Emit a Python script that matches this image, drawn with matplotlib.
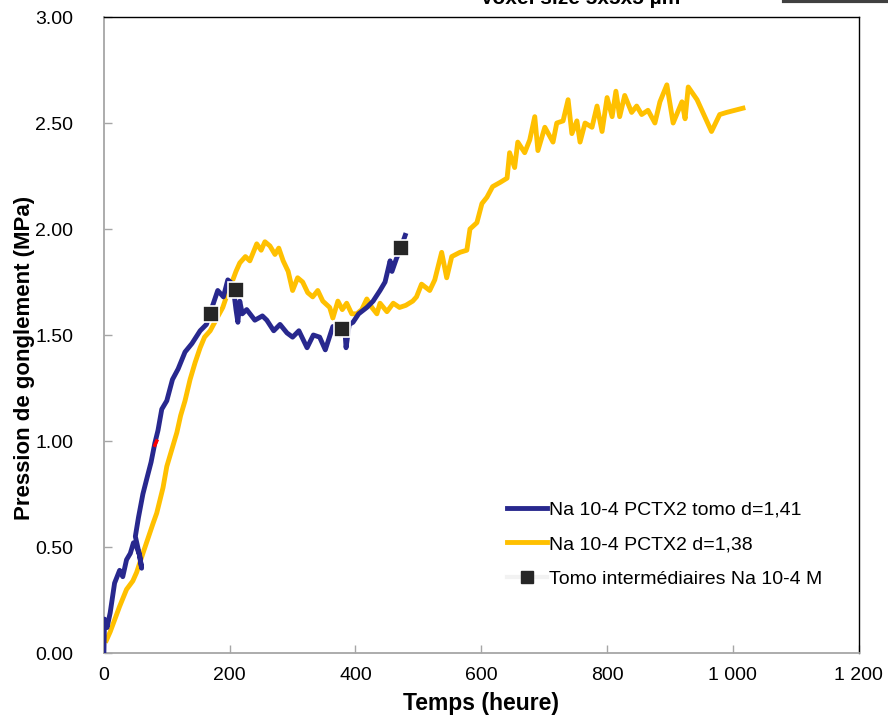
import matplotlib
matplotlib.use('agg')
import matplotlib.pyplot as plt
from matplotlib.lines import Line2D
from matplotlib.ticker import FuncFormatter

# Na 10-4 PCTX2 tomo d=1,41 (heures, MPa)
tomo_t = [0, 1, 5, 10, 17, 25, 30, 36, 42, 47, 52, 57, 60, 56, 50, 55, 62, 68,
          75, 81, 86, 92, 100, 109, 118, 129, 140, 153, 163, 173, 181, 190,
          197, 205, 210, 213, 216, 220, 227, 240, 252, 259, 270, 280, 291,
          300, 310, 323, 333, 343, 352, 364, 375, 383, 385, 390, 396, 405,
          418, 428, 439, 447, 455, 458, 465, 472, 479]
tomo_p = [0.00, 0.16, 0.12, 0.19, 0.33, 0.39, 0.36, 0.44, 0.47, 0.52, 0.50,
          0.46, 0.40, 0.47, 0.55, 0.64, 0.75, 0.82, 0.90, 0.99, 1.05, 1.15,
          1.19, 1.29, 1.34, 1.42, 1.46, 1.52, 1.55, 1.64, 1.71, 1.68, 1.76,
          1.74, 1.62, 1.56, 1.66, 1.60, 1.62, 1.57, 1.59, 1.57, 1.52, 1.55,
          1.51, 1.49, 1.52, 1.44, 1.50, 1.49, 1.43, 1.54, 1.50, 1.53, 1.44,
          1.55, 1.56, 1.60, 1.63, 1.66, 1.71, 1.75, 1.85, 1.80, 1.86, 1.91,
          1.97]

# Na 10-4 PCTX2 d=1,38
ref_t = [4, 10, 15, 25, 36, 46, 52, 62, 70, 78, 84, 94, 100, 108, 116, 122,
         129, 137, 145, 153, 160, 169, 178, 189, 197, 205, 210, 216, 225,
         232, 243, 250, 256, 264, 272, 278, 285, 293, 300, 308, 316, 324,
         332, 340, 348, 359, 364, 372, 379, 386, 394, 402, 410, 418, 426,
         434, 439, 450, 460, 470, 480, 491, 497, 505, 518, 526, 537, 545,
         553, 566, 577, 582, 593, 601, 609, 618, 630, 641, 645, 653, 658,
         669, 677, 685, 690, 701, 714, 720, 730, 738, 744, 752, 757, 765,
         776, 784, 792, 800, 808, 814, 820, 828, 839, 847, 855, 865, 876,
         884, 895, 905, 919, 924, 929, 943, 966, 979, 990, 1016]
ref_p = [0.06, 0.10, 0.14, 0.22, 0.30, 0.34, 0.38, 0.47, 0.54, 0.61, 0.66,
         0.78, 0.88, 0.96, 1.04, 1.12, 1.19, 1.29, 1.37, 1.44, 1.49, 1.52,
         1.57, 1.63, 1.70, 1.76, 1.80, 1.84, 1.87, 1.85, 1.93, 1.90, 1.94,
         1.92, 1.88, 1.91, 1.85, 1.80, 1.71, 1.77, 1.75, 1.70, 1.68, 1.71,
         1.66, 1.63, 1.58, 1.66, 1.62, 1.65, 1.60, 1.60, 1.62, 1.67, 1.63,
         1.60, 1.65, 1.61, 1.65, 1.63, 1.64, 1.66, 1.68, 1.74, 1.71, 1.76,
         1.89, 1.77, 1.87, 1.89, 1.90, 2.00, 2.03, 2.12, 2.15, 2.20, 2.22,
         2.24, 2.36, 2.29, 2.41, 2.36, 2.42, 2.53, 2.37, 2.48, 2.41, 2.50,
         2.51, 2.61, 2.45, 2.51, 2.41, 2.50, 2.48, 2.58, 2.46, 2.62, 2.53,
         2.65, 2.53, 2.63, 2.55, 2.58, 2.54, 2.56, 2.50, 2.60, 2.68, 2.50,
         2.60, 2.52, 2.67, 2.61, 2.46, 2.54, 2.55, 2.57]

# tomographies intermediaires
scan_t = [171, 210, 378, 472]
scan_p = [1.60, 1.71, 1.53, 1.91]

NAVY = '#28288e'
GOLD = '#ffc000'


def fr_thousands(v, pos):
    return '{:,.0f}'.format(v).replace(',', ' ')


def main():
    plt.rcParams['font.family'] = ['Liberation Sans', 'DejaVu Sans']
    fig = plt.figure(figsize=(8.88, 7.18), dpi=100)
    ax = fig.add_axes([0.117, 0.0905, 0.850, 0.8858])

    ax.plot(tomo_t, tomo_p, color=NAVY, lw=3.5, solid_joinstyle='round',
            label='Na 10-4 PCTX2 tomo d=1,41', zorder=3)
    ax.plot([81, 84], [0.98, 1.00], color='red', lw=2.5, zorder=4)
    ax.plot(ref_t, ref_p, color=GOLD, lw=3.5, solid_joinstyle='round',
            label='Na 10-4 PCTX2 d=1,38', zorder=2)
    ax.plot(scan_t, scan_p, ls='none', marker='s', ms=12, mfc='#262626',
            mec='white', mew=1.2, zorder=5)
    scan_handle = Line2D([], [], color='#f2f2f2', lw=3, marker='s', ms=8,
                         mfc='#262626', mec='#262626')

    ax.set_xlim(0, 1200)
    ax.set_ylim(0, 3)
    ax.set_xticks(range(0, 1201, 200))
    ax.set_yticks([0, 0.5, 1, 1.5, 2, 2.5, 3])
    ax.xaxis.set_major_formatter(FuncFormatter(fr_thousands))
    ax.yaxis.set_major_formatter(FuncFormatter(lambda v, p: '{:.2f}'.format(v)))
    ax.tick_params(direction='in', length=6, width=1, color='#a6a6a6',
                   labelsize=14)
    ax.tick_params(axis='y', pad=22)
    ax.tick_params(axis='x', pad=10)
    for side in ('left', 'bottom'):
        ax.spines[side].set_color('#a6a6a6')
        ax.spines[side].set_linewidth(1.3)
    for side in ('top', 'right'):
        ax.spines[side].set_color('black')
        ax.spines[side].set_linewidth(1)

    ax.set_xlabel('Temps (heure)', fontsize=16.5, fontweight='bold', labelpad=6)
    ax.set_ylabel('Pression de gonglement (MPa)', fontsize=16, fontweight='bold')
    ax.yaxis.set_label_coords(-0.091, 0.464)

    handles, labels = ax.get_legend_handles_labels()
    handles.append(scan_handle)
    labels.append('Tomo intermédiaires Na 10-4 M')
    ax.legend(handles, labels, loc='upper left', bbox_to_anchor=(0.534, 0.239),
              frameon=False, fontsize=14, handlelength=2.05, handletextpad=0.1,
              labelspacing=0.87, borderpad=0, borderaxespad=0)

    fig.text(0.653, 0.9944, 'Voxel size 5x5x5 µm', ha='center', va='baseline',
             fontsize=15, fontweight='bold')
    fig.add_artist(Line2D([0.883, 1.0], [0.998, 0.998], color='#404040', lw=3,
                          transform=fig.transFigure))

    fig.savefig('out.png', dpi=100)


if __name__ == '__main__':
    main()
